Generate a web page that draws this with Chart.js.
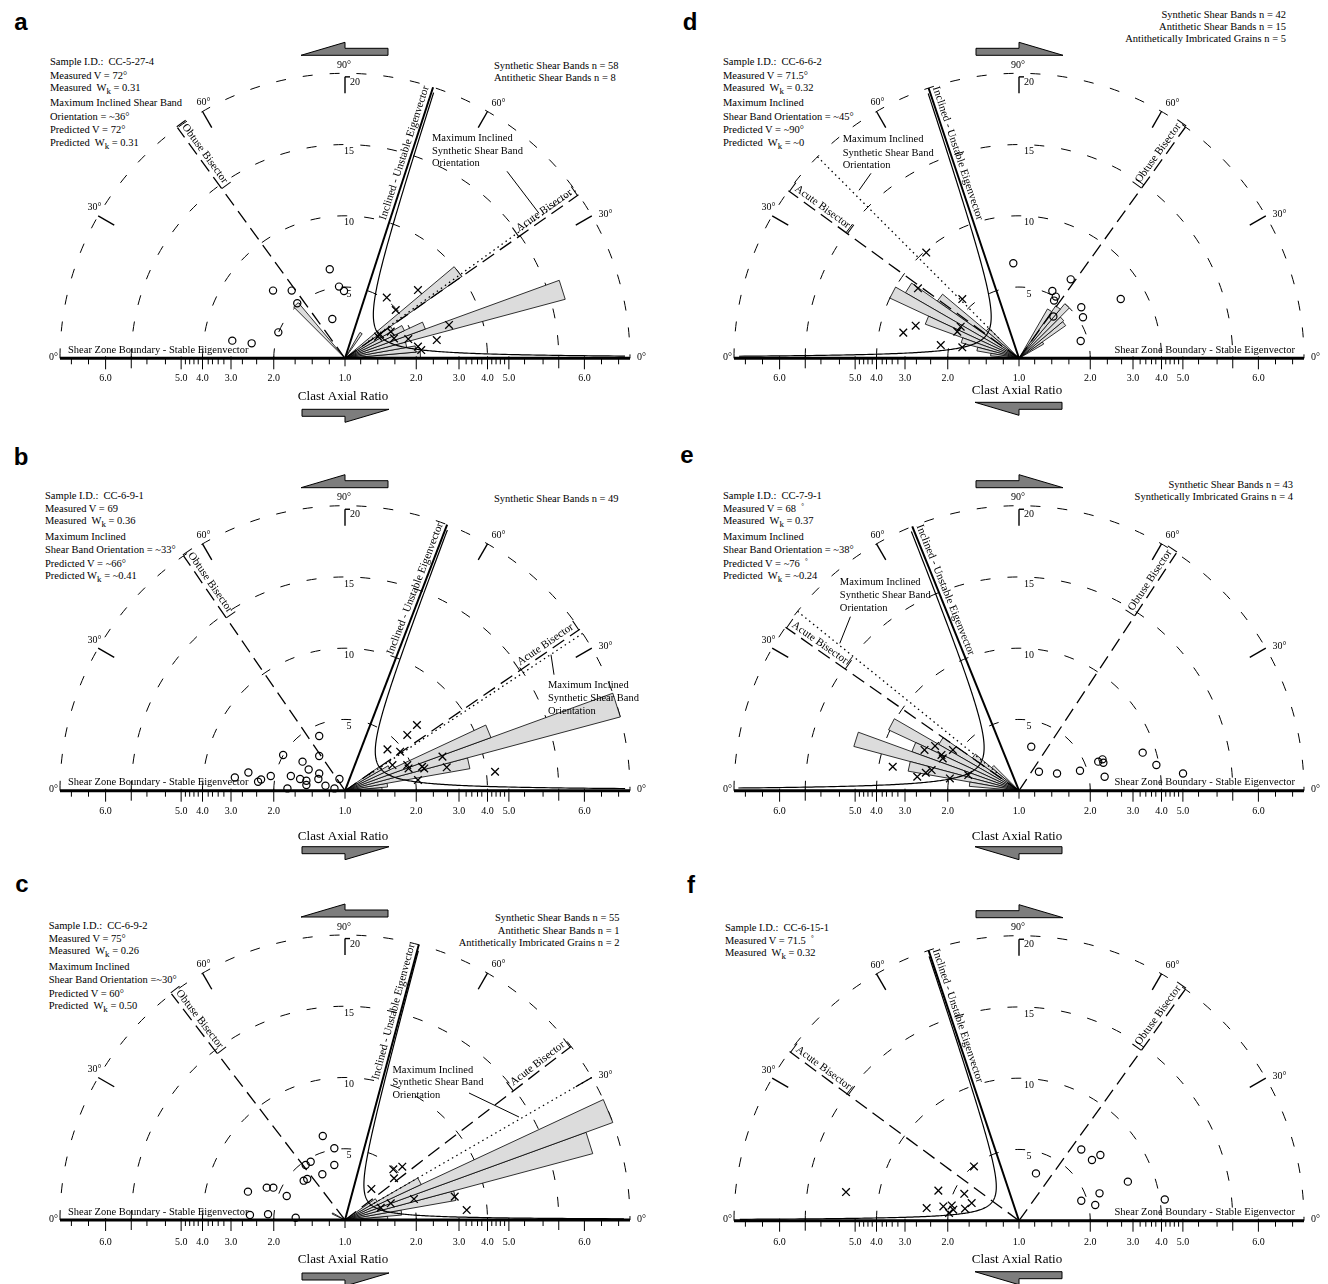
<!DOCTYPE html>
<html>
<head>
<meta charset="utf-8">
<script src="https://cdn.jsdelivr.net/npm/chart.js"></script>
<style>
  html, body { margin: 0; padding: 0; background: #fff; }
  #page { position: relative; width: 1328px; height: 1284px; overflow: hidden; font-family: "Liberation Serif", "Times New Roman", serif; color: #000; }
  canvas { position: absolute; }
  .t { position: absolute; font-size: 10.5px; line-height: 13px; white-space: pre; }
  .letter { position: absolute; width: 30px; text-align: center; font-family: "Liberation Sans", Arial, sans-serif; font-weight: bold; font-size: 24px; line-height: 24px; }
  sub { font-size: 9px; vertical-align: -2.5px; line-height: 0; }
  sup { font-size: 7px; vertical-align: 4px; line-height: 0; }
</style>
</head>
<body>
<div id="page"></div>
<script>
// net units: the outer dashed circle is 20
const ratioLabels = ['2.0', '3.0', '4.0', '5.0', '6.0'];
const ratioPos = [5.0, 8.0, 10.0, 11.5, 16.8];
const gridRadii = [5, 10, 15, 20];
const angleMarks = [30, 60, 120, 150];
const maxBandLabel = ['Maximum Inclined', 'Synthetic Shear Band', 'Orientation'];

// guides in degrees from the right-hand 0°: eigenvector, obtuse bisector, acute bisector, max synthetic band
const aGuides = [72, 126, 35, 36];
const bGuides = [69, 124.5, 34.5, 33.5];
const cGuides = [75, 127.5, 37.5, 30];
const dGuides = [108.5, 54.25, 144, 135];
const eGuides = [112, 56.5, 145, 141];
const fGuides = [108.5, 54.3, 143.6, null];

// shear band rose petals: [from°, to°, length]
const aBands = [[0,5,5.3],[5,10,5.0],[10,15,4.4],[15,20,16.0],[20,25,6.0],[25,30,4.6],[30,35,3.9],[35,40,10.0],[55,60,2.1],[130,135,5.1]];
const bBands = [[0,5,2.6],[5,10,3.0],[10,15,8.9],[15,20,20.0],[20,25,10.9],[25,30,3.5],[30,35,3.0]];
const cBands = [[0,5,3.0],[5,10,4.0],[10,15,7.9],[15,20,18.0],[20,25,20.0],[25,30,5.9],[30,35,2.6],[150,155,1.0]];
const dBands = [[135,140,3.0],[140,145,7.0],[145,150,9.2],[150,155,10.0],[155,160,7.0],[160,165,4.2],[165,170,3.0],[170,175,2.0],
                [30,35,2.0],[35,40,4.0],[40,45,4.1],[45,50,5.0],[50,55,4.5],[55,60,4.0]];
const eBands = [[135,140,2.5],[140,145,4.0],[145,150,6.5],[150,155,10.1],[155,160,8.0],[160,165,12.0],[165,170,7.9],[170,175,3.5]];
const fBands = [];

// clasts (circles) and imbricated grains (crosses), [x, y] in net units
const aCircles = [[-1.07,6.25],[-0.42,5.03],[-0.07,4.72],[-5.05,4.75],[-3.74,4.75],[-3.35,3.86],[-0.89,2.76],[-4.68,1.82],[-7.91,1.24],[-6.55,1.05]];
const aCrosses = [[2.93,4.26],[5.12,4.79],[3.56,3.39],[2.32,1.52],[2.46,1.68],[3.21,1.87],[3.44,1.40],[4.44,1.35],[5.12,0.82],[5.35,0.58],[6.44,1.28],[7.30,2.34]];
const bCircles = [[-1.81,3.84],[-1.81,2.44],[-4.34,2.51],[-2.98,2.04],[-2.55,1.49],[-1.81,1.21],[-6.78,1.28],[-7.73,0.93],[-5.89,0.79],[-6.10,0.63],
                  [-5.21,1.03],[-3.80,1.03],[-3.15,0.82],[-2.71,0.70],[-1.87,0.82],[-0.39,0.82],[-2.71,0.40],[-1.37,0.35],[-0.74,0.16],[-4.04,0.16]];
const bCrosses = [[5.05,4.61],[4.37,3.91],[2.98,2.90],[3.87,2.74],[3.33,1.80],[4.37,1.80],[4.46,1.56],[5.41,1.68],[5.56,1.56],[6.84,2.39],[7.14,1.64],[10.53,1.33],[5.12,0.75]];
const cCircles = [[-1.56,5.89],[-0.75,5.03],[-0.75,3.86],[-2.41,4.09],[-2.76,3.86],[-1.59,3.21],[-2.65,2.88],[-2.90,2.76],[-4.09,1.68],[-5.03,2.27],
                  [-5.49,2.27],[-6.81,1.99],[-6.67,0.35],[-5.40,0.40],[-3.46,0.16]];
const cCrosses = [[3.39,3.56],[4.02,3.74],[3.44,2.93],[1.85,2.18],[4.84,1.47],[7.70,1.64],[8.54,0.70],[3.21,1.17],[2.51,0.86]];
const dCircles = [[-0.40,6.67],[3.63,5.54],[2.34,4.72],[2.58,4.33],[2.46,4.05],[4.37,3.58],[4.49,2.88],[2.41,2.93],[4.33,1.21],[7.14,4.16]];
const dCrosses = [[-6.51,7.42],[-7.09,4.91],[-3.98,4.16],[-7.25,2.29],[-8.12,1.80],[-4.09,2.22],[-4.33,1.87],[-5.49,0.93],[-3.98,0.77]];
const eCircles = [[0.86,3.09],[1.40,1.33],[2.67,1.21],[4.28,1.40],[5.56,2.04],[5.86,2.20],[5.92,1.96],[6.01,0.98],[8.68,2.67],[9.64,1.80],[11.51,1.21]];
const eCrosses = [[-6.63,2.86],[-5.89,3.14],[-5.44,2.51],[-5.35,2.27],[-4.64,2.86],[-8.86,1.68],[-7.14,0.98],[-6.54,1.26],[-6.13,1.45],[-4.85,0.86],[-3.56,1.10]];
const fCircles = [[4.37,5.00],[5.12,4.26],[5.71,4.61],[1.19,3.32],[7.64,2.74],[5.65,1.92],[4.37,1.40],[5.35,1.10],[10.23,1.49]];
const fCrosses = [[-3.16,3.81],[-12.14,2.01],[-5.66,2.11],[-3.84,1.89],[-6.48,0.89],[-5.31,1.00],[-4.72,1.07],[-4.61,0.77],[-3.79,0.84],[-3.32,1.24],[-4.91,0.54]];

const aInfo = ['Sample I.D.:  CC-5-27-4', 'Measured V = 72°', 'Measured  W<sub>k</sub> = 0.31', 'Maximum Inclined Shear Band', 'Orientation = ~36°', 'Predicted V = 72°', 'Predicted  W<sub>k</sub> = 0.31'];
const bInfo = ['Sample I.D.:  CC-6-9-1', 'Measured V = 69', 'Measured  W<sub>k</sub> = 0.36', 'Maximum Inclined', 'Shear Band Orientation = ~33°', 'Predicted V = ~66°', 'Predicted W<sub>k</sub> = ~0.41'];
const cInfo = ['Sample I.D.:  CC-6-9-2', 'Measured V = 75°', 'Measured  W<sub>k</sub> = 0.26', 'Maximum Inclined', 'Shear Band Orientation =~30°', 'Predicted V = 60°', 'Predicted  W<sub>k</sub> = 0.50'];
const dInfo = ['Sample I.D.:  CC-6-6-2', 'Measured V = 71.5°', 'Measured  W<sub>k</sub> = 0.32', 'Maximum Inclined', 'Shear Band Orientation = ~45°', 'Predicted V = ~90°', 'Predicted  W<sub>k</sub> = ~0'];
const eInfo = ['Sample I.D.:  CC-7-9-1', 'Measured V = 68  <sup>°</sup>', 'Measured  W<sub>k</sub> = 0.37', 'Maximum Inclined', 'Shear Band Orientation = ~38°', 'Predicted V = ~76  <sup>°</sup>', 'Predicted  W<sub>k</sub> = ~0.24'];
const fInfo = ['Sample I.D.:  CC-6-15-1', 'Measured V = 71.5  <sup>°</sup>', 'Measured  W<sub>k</sub> = 0.32'];

const aCounts = ['Synthetic Shear Bands n = 58', 'Antithetic Shear Bands n = 8'];
const bCounts = ['Synthetic Shear Bands n = 49'];
const cCounts = ['Synthetic Shear Bands n = 55', 'Antithetic Shear Bands n = 1', 'Antithetically Imbricated Grains n = 2'];
const dCounts = ['Synthetic Shear Bands n = 42', 'Antithetic Shear Bands n = 15', 'Antithetically Imbricated Grains n = 5'];
const eCounts = ['Synthetic Shear Bands n = 43', 'Synthetically Imbricated Grains n = 4'];
const fCounts = [];

// layout of the six panels (pixels)
const panels = [
  { key: 'a', left: 0, top: 0, h: 430, cx: 345, cy: 358.3, k: 3.2, guides: aGuides, bands: aBands, circles: aCircles, crosses: aCrosses,
    info: aInfo, infoX: 50, infoY: 61.7, counts: aCounts, countsX: 494, countsY: [65, 77.3], countsAlign: 'left',
    letterX: 21, letterY: 30, topDir: -1, botY: 51, carY: 38, tickY: 20, numDx: 4, szb: 'left',
    bandLabel: { x: 87, y: [-220, -207.5, -195], lead: [162, -187, 194, -145] } },
  { key: 'b', left: 0, top: 430, h: 430, cx: 345, cy: 360.7, k: 3.15, guides: bGuides, bands: bBands, circles: bCircles, crosses: bCrosses,
    info: bInfo, infoX: 45, infoY: 495, counts: bCounts, countsX: 494, countsY: [498.3], countsAlign: 'left',
    letterX: 21, letterY: 465, topDir: -1, botY: 56, carY: 46, tickY: 21, numDx: 4, szb: 'left',
    bandLabel: { x: 203, y: [-105, -92.3, -79.3], lead: [206, -136, 209, -116] } },
  { key: 'c', left: 0, top: 860, h: 424, cx: 345, cy: 360, k: 1.7, guides: cGuides, bands: cBands, circles: cCircles, crosses: cCrosses,
    info: cInfo, infoX: 48.7, infoY: 925, counts: cCounts, countsX: 619.5, countsY: [917.3, 930, 942.3], countsAlign: 'right',
    letterX: 22, letterY: 892, topDir: -1, botY: 53, carY: 40, tickY: 22.5, numDx: 4, szb: 'left',
    bandLabel: { x: 47.5, y: [-150, -137.3, -124.3], lead: [124, -127, 174, -103] } },
  { key: 'd', left: 664, top: 0, h: 430, cx: 355, cy: 358.3, k: 3.0, guides: dGuides, bands: dBands, circles: dCircles, crosses: dCrosses,
    info: dInfo, infoX: 723, infoY: 61.7, counts: dCounts, countsX: 1286, countsY: [14, 26, 38.3], countsAlign: 'right',
    letterX: 690, letterY: 30, topDir: 1, botY: 44, carY: 32, tickY: 20, numDx: 10, szb: 'right',
    bandLabel: { x: -176.3, y: [-218.7, -205.3, -193], lead: [-148, -185, -160, -168] } },
  { key: 'e', left: 664, top: 430, h: 430, cx: 355, cy: 360.7, k: 4.0, guides: eGuides, bands: eBands, circles: eCircles, crosses: eCrosses,
    info: eInfo, infoX: 723, infoY: 495, counts: eCounts, countsX: 1293, countsY: [484, 496.7], countsAlign: 'right',
    letterX: 687, letterY: 463, topDir: 1, botY: 56, carY: 46, tickY: 21, numDx: 10, szb: 'right',
    bandLabel: { x: -179.2, y: [-208, -195, -182.4], lead: [-168.6, -174, -179.2, -147.4] } },
  { key: 'f', left: 664, top: 860, h: 424, cx: 355, cy: 360.7, k: 2.0, guides: fGuides, bands: fBands, circles: fCircles, crosses: fCrosses,
    info: fInfo, infoX: 725, infoY: 927.3, counts: fCounts, countsX: 0, countsY: [], countsAlign: 'right',
    letterX: 691, letterY: 893, topDir: 1, botY: 51, carY: 39, tickY: 22, numDx: 10, szb: 'right',
    bandLabel: null }
];

const D = Math.PI / 180;
const R = 285; // outer circle radius in px
const minorTicks = [1.1, 2.3, 3.5, 6.2, 7.2, 8.5, 8.9, 9.3, 9.6, 10.3, 10.6, 10.9, 11.2, 12.6, 13.9, 18.0, 19.2];
const SERIF = '"Liberation Serif", "Times New Roman", serif';

function netPlugin(p) {
  return {
    id: 'net_' + p.key,
    beforeDatasetsDraw(chart) {
      const ctx = chart.ctx, xs = chart.scales.x, ys = chart.scales.y;
      const X = v => xs.getPixelForValue(v), Y = v => ys.getPixelForValue(v);
      const ox = X(0), oy = Y(0), u = X(1) - X(0);
      const pol = (a, r) => [X(r * Math.cos(a * D)), Y(r * Math.sin(a * D))];
      const seg = (p1, p2) => { ctx.beginPath(); ctx.moveTo(p1[0], p1[1]); ctx.lineTo(p2[0], p2[1]); ctx.stroke(); };
      const txt = (s, x, y, align, size) => {
        ctx.font = (size || 10) + 'px ' + SERIF;
        ctx.textAlign = align || 'center'; ctx.textBaseline = 'middle';
        ctx.fillText(s, x, y);
      };
      const [eig, obt, acu, band] = p.guides;

      ctx.save();
      ctx.strokeStyle = '#000'; ctx.fillStyle = '#000';

      // dashed circles
      ctx.lineWidth = 1; ctx.setLineDash([10, 17]);
      gridRadii.forEach(r => { ctx.beginPath(); ctx.arc(ox, oy, r * u, Math.PI, 2 * Math.PI); ctx.stroke(); });
      ctx.setLineDash([]);

      // angle marks
      ctx.lineWidth = 1.4;
      angleMarks.forEach(a => seg(pol(a, 18.7), pol(a, 20)));
      seg(pol(90, 18.6), pol(90, 19.75));
      seg(pol(90, 19.75), [ox + 5, Y(19.75)]);
      angleMarks.forEach(a => {
        const q = pol(a - 1, a < 90 ? 20.9 : 20.5);
        txt((a > 90 ? 180 - a : a) + '°', q[0], q[1]);
      });
      txt('90°', ox - 1, Y(20.55));
      txt('20', ox + 5, oy - 276, 'left');
      gridRadii.slice(0, 3).forEach(r => txt(String(r), ox + p.numDx, oy - r * u + 7));

      // rose petals
      ctx.lineWidth = 0.8; ctx.fillStyle = '#dcdcdc';
      p.bands.forEach(([a0, a1, len]) => {
        const p1 = pol(a0, len), p2 = pol(a1, len);
        ctx.beginPath(); ctx.moveTo(ox, oy); ctx.lineTo(p1[0], p1[1]); ctx.lineTo(p2[0], p2[1]); ctx.closePath();
        ctx.fill(); ctx.stroke();
      });
      ctx.fillStyle = '#000';

      // baseline axis
      ctx.lineWidth = 3;
      seg([X(-20), oy], [X(20), oy]);
      ctx.lineWidth = 1;
      [-1, 1].forEach(sg => {
        minorTicks.forEach(v => seg([X(sg * v), oy], [X(sg * v), oy + 6]));
        seg([X(sg * 15), oy - 2], [X(sg * 15), oy + 10]);
        ratioPos.forEach((v, i) => {
          seg([X(sg * v), oy - 2], [X(sg * v), oy + 11]);
          txt(ratioLabels[i], X(sg * v), oy + p.tickY);
        });
      });
      seg([ox, oy], [ox, oy + 8]);
      txt('1.0', ox, oy + p.tickY);
      txt('0°', X(-20) - 2, oy - 1, 'right');
      txt('0°', X(20) + 7, oy - 1, 'left');
      txt('Clast Axial Ratio', ox - 2, oy + p.carY, 'center', 13);
      txt('Shear Zone Boundary - Stable Eigenvector', p.szb === 'left' ? ox - 277 : ox + 276, oy - 8, p.szb, 10.5);

      // bisectors and maximum band
      ctx.lineWidth = 1.3; ctx.setLineDash([14, 7]);
      seg([ox, oy], pol(obt, 20));
      seg([ox, oy], pol(acu, 20));
      if (band != null) {
        ctx.setLineDash([1.5, 3.5]);
        seg(pol(band, 2), pol(band, 20));
      }
      ctx.setLineDash([]);

      // eigenvector and separatrix
      ctx.lineWidth = 2;
      seg([ox, oy], pol(eig, 20));
      const c1 = Math.cos(eig * D), s1 = Math.sin(eig * D), sg = eig < 90 ? 1 : -1;
      ctx.lineWidth = 1.2; ctx.beginPath();
      let first = true;
      for (let i = 0; i <= 240; i++) {
        const s = 20 * Math.pow(p.k / 400, i / 240), t = p.k / s;
        const x = s * c1 + sg * t, y = s * s1;
        if (Math.hypot(x, y) > 20) continue;
        if (first) ctx.moveTo(X(x), Y(y)); else ctx.lineTo(X(x), Y(y));
        first = false;
      }
      ctx.stroke();

      // labels along guide lines
      const along = (s, ang, rc, bracket) => {
        const q = pol(ang, rc);
        const rot = ang < 90 ? -ang * D : (180 - ang) * D;
        ctx.save(); ctx.translate(q[0], q[1]); ctx.rotate(rot);
        ctx.font = '11px ' + SERIF; ctx.textAlign = 'center'; ctx.textBaseline = 'alphabetic';
        ctx.fillText(s, 0, -4);
        if (bracket) {
          const w = ctx.measureText(s).width / 2 + 3;
          ctx.lineWidth = 1;
          seg([-w, 0], [-w, -11]); seg([w, 0], [w, -11]);
        }
        ctx.restore();
      };
      along('Inclined - Unstable Eigenvector', eig, 15, false);
      along('Obtuse Bisector', obt, 17.4, true);
      along('Acute Bisector', acu, 17.4, true);

      if (p.bandLabel) {
        const b = p.bandLabel;
        maxBandLabel.forEach((s, i) => txt(s, ox + b.x, oy + b.y[i], 'left', 10.5));
        ctx.lineWidth = 1;
        seg([ox + b.lead[0], oy + b.lead[1]], [ox + b.lead[2], oy + b.lead[3]]);
      }

      // shear sense arrows
      const arrow = (dir, yEdge, up) => {
        const v = up ? -1 : 1;
        const pts = [[dir * 44, yEdge], [0, yEdge + v * 13], [0, yEdge + v * 7], [-dir * 43, yEdge + v * 7], [-dir * 43, yEdge]];
        ctx.beginPath();
        pts.forEach((q, i) => i ? ctx.lineTo(ox + q[0], oy + q[1]) : ctx.moveTo(ox + q[0], oy + q[1]));
        ctx.closePath();
        ctx.fillStyle = '#7d7d7d'; ctx.fill();
        ctx.lineWidth = 1; ctx.stroke();
        ctx.fillStyle = '#000';
      };
      arrow(p.topDir, -303, true);
      arrow(-p.topDir, p.botY, false);

      ctx.restore();
    }
  };
}

const page = document.getElementById('page');
function addDiv(html, cls, css) {
  const d = document.createElement('div');
  d.className = cls; d.innerHTML = html;
  Object.assign(d.style, css);
  page.appendChild(d);
}
const infoOffsets = [0, 13.3, 25.6, 41, 54.6, 68, 80.3];

panels.forEach(p => {
  addDiv(p.key, 'letter', { left: (p.letterX - 15) + 'px', top: (p.letterY - 20) + 'px' });
  p.info.forEach((s, i) => addDiv(s, 't', { left: p.infoX + 'px', top: (p.infoY + infoOffsets[i] - 6.5) + 'px' }));
  p.counts.forEach((s, i) => {
    const css = { top: (p.countsY[i] - 6.5) + 'px' };
    if (p.countsAlign === 'left') css.left = p.countsX + 'px';
    else css.right = (1328 - p.countsX) + 'px';
    addDiv(s, 't', css);
  });

  const cv = document.createElement('canvas');
  cv.width = 664; cv.height = p.h;
  Object.assign(cv.style, { left: p.left + 'px', top: p.top + 'px', width: '664px', height: p.h + 'px' });
  page.appendChild(cv);

  new Chart(cv.getContext('2d'), {
    type: 'scatter',
    data: {
      datasets: [
        {
          label: 'clasts',
          data: p.circles.map(([x, y]) => ({ x, y })),
          pointStyle: 'circle', pointRadius: 3.6, pointBorderWidth: 1.2,
          pointBorderColor: '#000', pointBackgroundColor: 'rgba(255,255,255,0)',
          borderColor: '#000', backgroundColor: 'rgba(255,255,255,0)', clip: false
        },
        {
          label: 'imbricated grains',
          data: p.crosses.map(([x, y]) => ({ x, y })),
          pointStyle: 'crossRot', pointRadius: 5.4, pointBorderWidth: 1.3,
          pointBorderColor: '#000', borderColor: '#000', clip: false
        }
      ]
    },
    options: {
      responsive: false,
      animation: false,
      devicePixelRatio: 1,
      events: [],
      layout: { padding: { left: p.cx - R, right: 664 - p.cx - R, top: p.cy - R, bottom: p.h - p.cy } },
      scales: {
        x: { type: 'linear', min: -20, max: 20, display: false },
        y: { type: 'linear', min: 0, max: 20, display: false }
      },
      plugins: { legend: { display: false }, tooltip: { enabled: false } }
    },
    plugins: [netPlugin(p)]
  });
});
</script>
</body>
</html>
